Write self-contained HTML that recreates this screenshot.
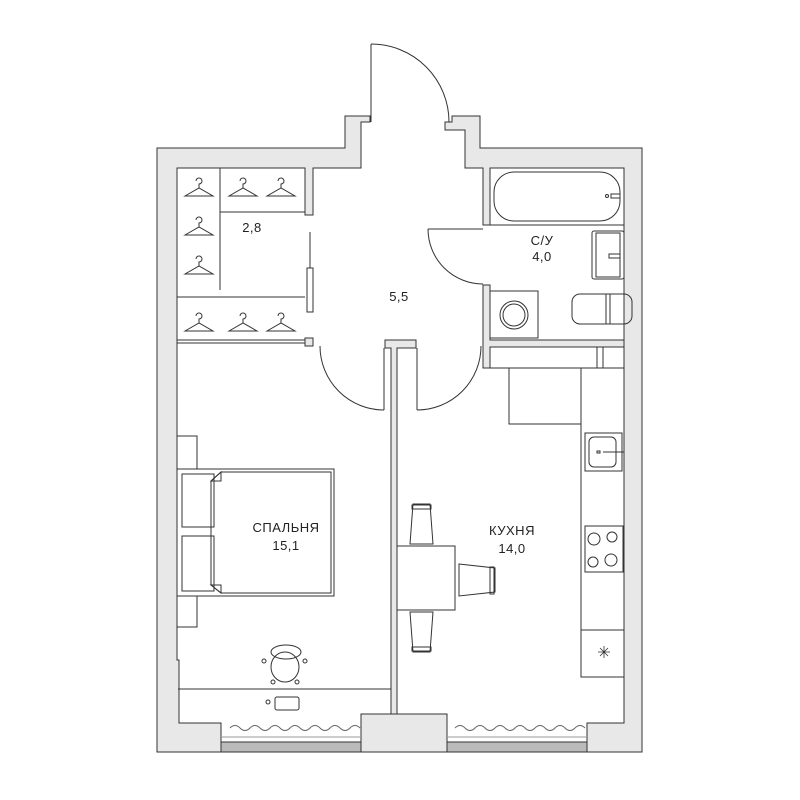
<!DOCTYPE html>
<html><head><meta charset="utf-8"><style>
html,body{margin:0;padding:0;background:#fff;}
svg{display:block;}
text{font-family:"Liberation Sans",sans-serif;font-size:13px;fill:#222;text-anchor:middle;letter-spacing:0.5px;}
</style></head><body>
<svg width="800" height="800" viewBox="0 0 800 800" xmlns="http://www.w3.org/2000/svg">
<defs><path id="hg" d="M-14,10 L0,2 L14,10 Z M0,2 V-2 a3,3 0 1 0 -3,-3" stroke="#333" fill="none"/></defs>
<rect width="800" height="800" fill="#fff"/>
<g stroke="#333" stroke-width="1" fill="#e8e8e8">
<path d="M157,148 H345 V116 H370 V122 H361 V130 V168 H313 V215 H305 V168 H177 V660 H179 V723 H221 V752 H157 Z"/>
<path d="M480,148 H642 V752 H587 V723 H624 V168 H490 V225 H483 V168 H465 V130 H445 V122 H452 V116 H480 Z"/>
<rect x="361" y="714" width="86" height="38"/>
<path d="M385,340 H416 V348 H397 V714 H391 V348 H385 Z"/>
<rect x="305" y="338" width="8" height="8"/>
<path d="M483,285 H490 V340 H624 V347 H490 V368 H483 Z"/>
</g>
<g stroke="#333" stroke-width="1" fill="none">
<rect x="221" y="742" width="140" height="10" fill="#bbb"/>
<rect x="447" y="742" width="140" height="10" fill="#bbb"/>
<line x1="221" y1="737" x2="361" y2="737" stroke="#999"/>
<line x1="447" y1="737" x2="587" y2="737" stroke="#999"/>
<path d="M230,728 q5,-5 10,0 t10,0 t10,0 t10,0 t10,0 t10,0 t10,0 t10,0 t10,0 t10,0 t10,0 t10,0 t10,0" stroke="#666"/>
<path d="M455,728 q5,-5 10,0 t10,0 t10,0 t10,0 t10,0 t10,0 t10,0 t10,0 t10,0 t10,0 t10,0 t10,0 t10,0" stroke="#666"/>
<line x1="371" y1="44" x2="371" y2="122"/>
<path d="M371,44 A78,78 0 0 1 449,122"/>
<line x1="384" y1="348" x2="384" y2="410"/>
<path d="M320,346 A64,64 0 0 0 384,410"/>
<line x1="417" y1="348" x2="417" y2="410"/>
<path d="M417,410 A64,64 0 0 0 481,346"/>
<line x1="428" y1="229" x2="483" y2="229"/>
<path d="M428,229 A55,55 0 0 0 483,284"/>
<line x1="220" y1="168" x2="220" y2="290"/>
<line x1="220" y1="212" x2="305" y2="212"/>
<line x1="177" y1="297" x2="305" y2="297"/>
<line x1="177" y1="340" x2="305" y2="340"/>
<line x1="177" y1="343" x2="305" y2="343"/>
<line x1="310" y1="232" x2="310" y2="268"/>
<rect x="307" y="268" width="6" height="44"/>
<rect x="490" y="168" width="134" height="57"/>
<rect x="494" y="172" width="126" height="49" rx="20"/>
<circle cx="607" cy="196" r="1.5"/><rect x="611" y="194" width="9" height="4"/>
<rect x="592" y="231" width="32" height="48" rx="2"/>
<rect x="596" y="233" width="24" height="44"/>
<rect x="609" y="254" width="11" height="4"/>
<rect x="490" y="291" width="48" height="47"/>
<circle cx="514" cy="315" r="14"/><circle cx="514" cy="315" r="11"/>
<rect x="572" y="294" width="60" height="30" rx="8"/>
<line x1="606" y1="294" x2="606" y2="324"/><line x1="610" y1="294" x2="610" y2="324"/>
<rect x="490" y="347" width="107" height="21"/>
<rect x="603" y="347" width="21" height="21"/>
<rect x="509" y="368" width="72" height="56"/>
<rect x="581" y="368" width="43" height="309"/>
<rect x="585" y="433" width="37" height="38"/>
<rect x="589" y="437" width="27" height="30" rx="5"/>
<rect x="597" y="451" width="3" height="2"/>
<line x1="603" y1="452" x2="624" y2="452"/>
<rect x="585" y="526" width="38" height="46"/>
<circle cx="594" cy="539" r="6"/><circle cx="612" cy="537" r="5"/>
<circle cx="593" cy="562" r="5"/><circle cx="611" cy="560" r="6"/>
<rect x="581" y="630" width="43" height="47"/>
<path d="M600,648 l8,8 M608,648 l-8,8 M604,646 v12 M598,652 h12" stroke-width="0.8"/>
<rect x="397" y="546" width="58" height="64"/>
<path d="M413,504 H430 L433,544 H410 Z"/><rect x="412" y="505" width="19" height="4"/>
<path d="M410,612 H433 L430,652 H413 Z"/><rect x="412" y="647" width="19" height="4"/>
<path d="M459,564 L495,568 V592 L459,596 Z"/><rect x="490" y="567" width="4" height="27"/>
<rect x="177" y="436" width="20" height="33"/>
<rect x="177" y="596" width="20" height="31"/>
<rect x="177" y="469" width="157" height="127"/>
<rect x="182" y="474" width="32" height="53"/>
<rect x="182" y="536" width="32" height="55"/>
<path d="M221,472 H331 V593 H221 L211,585 V481 Z"/>
<path d="M221,472 L211,481 H221 Z M221,593 L211,585 H221 Z"/>
<line x1="178" y1="689" x2="391" y2="689"/>
<rect x="275" y="697" width="24" height="13" rx="2"/>
<circle cx="268" cy="702" r="2"/>
<ellipse cx="286" cy="652" rx="15" ry="7"/>
<ellipse cx="285" cy="667" rx="14" ry="15"/>
<circle cx="264" cy="661" r="2"/><circle cx="305" cy="661" r="2"/>
<circle cx="273" cy="682" r="2"/><circle cx="297" cy="682" r="2"/>
</g>
<use href="#hg" x="199" y="186"/>
<use href="#hg" x="243" y="186"/>
<use href="#hg" x="281" y="186"/>
<use href="#hg" x="199" y="225"/>
<use href="#hg" x="199" y="264"/>
<use href="#hg" x="199" y="321"/>
<use href="#hg" x="243" y="321"/>
<use href="#hg" x="281" y="321"/>
<text x="252" y="232">2,8</text>
<text x="399" y="301">5,5</text>
<text x="542" y="245">С/У</text>
<text x="542" y="261">4,0</text>
<text x="286" y="532">СПАЛЬНЯ</text>
<text x="286" y="550">15,1</text>
<text x="512" y="535">КУХНЯ</text>
<text x="512" y="553">14,0</text>
</svg>
</body></html>
